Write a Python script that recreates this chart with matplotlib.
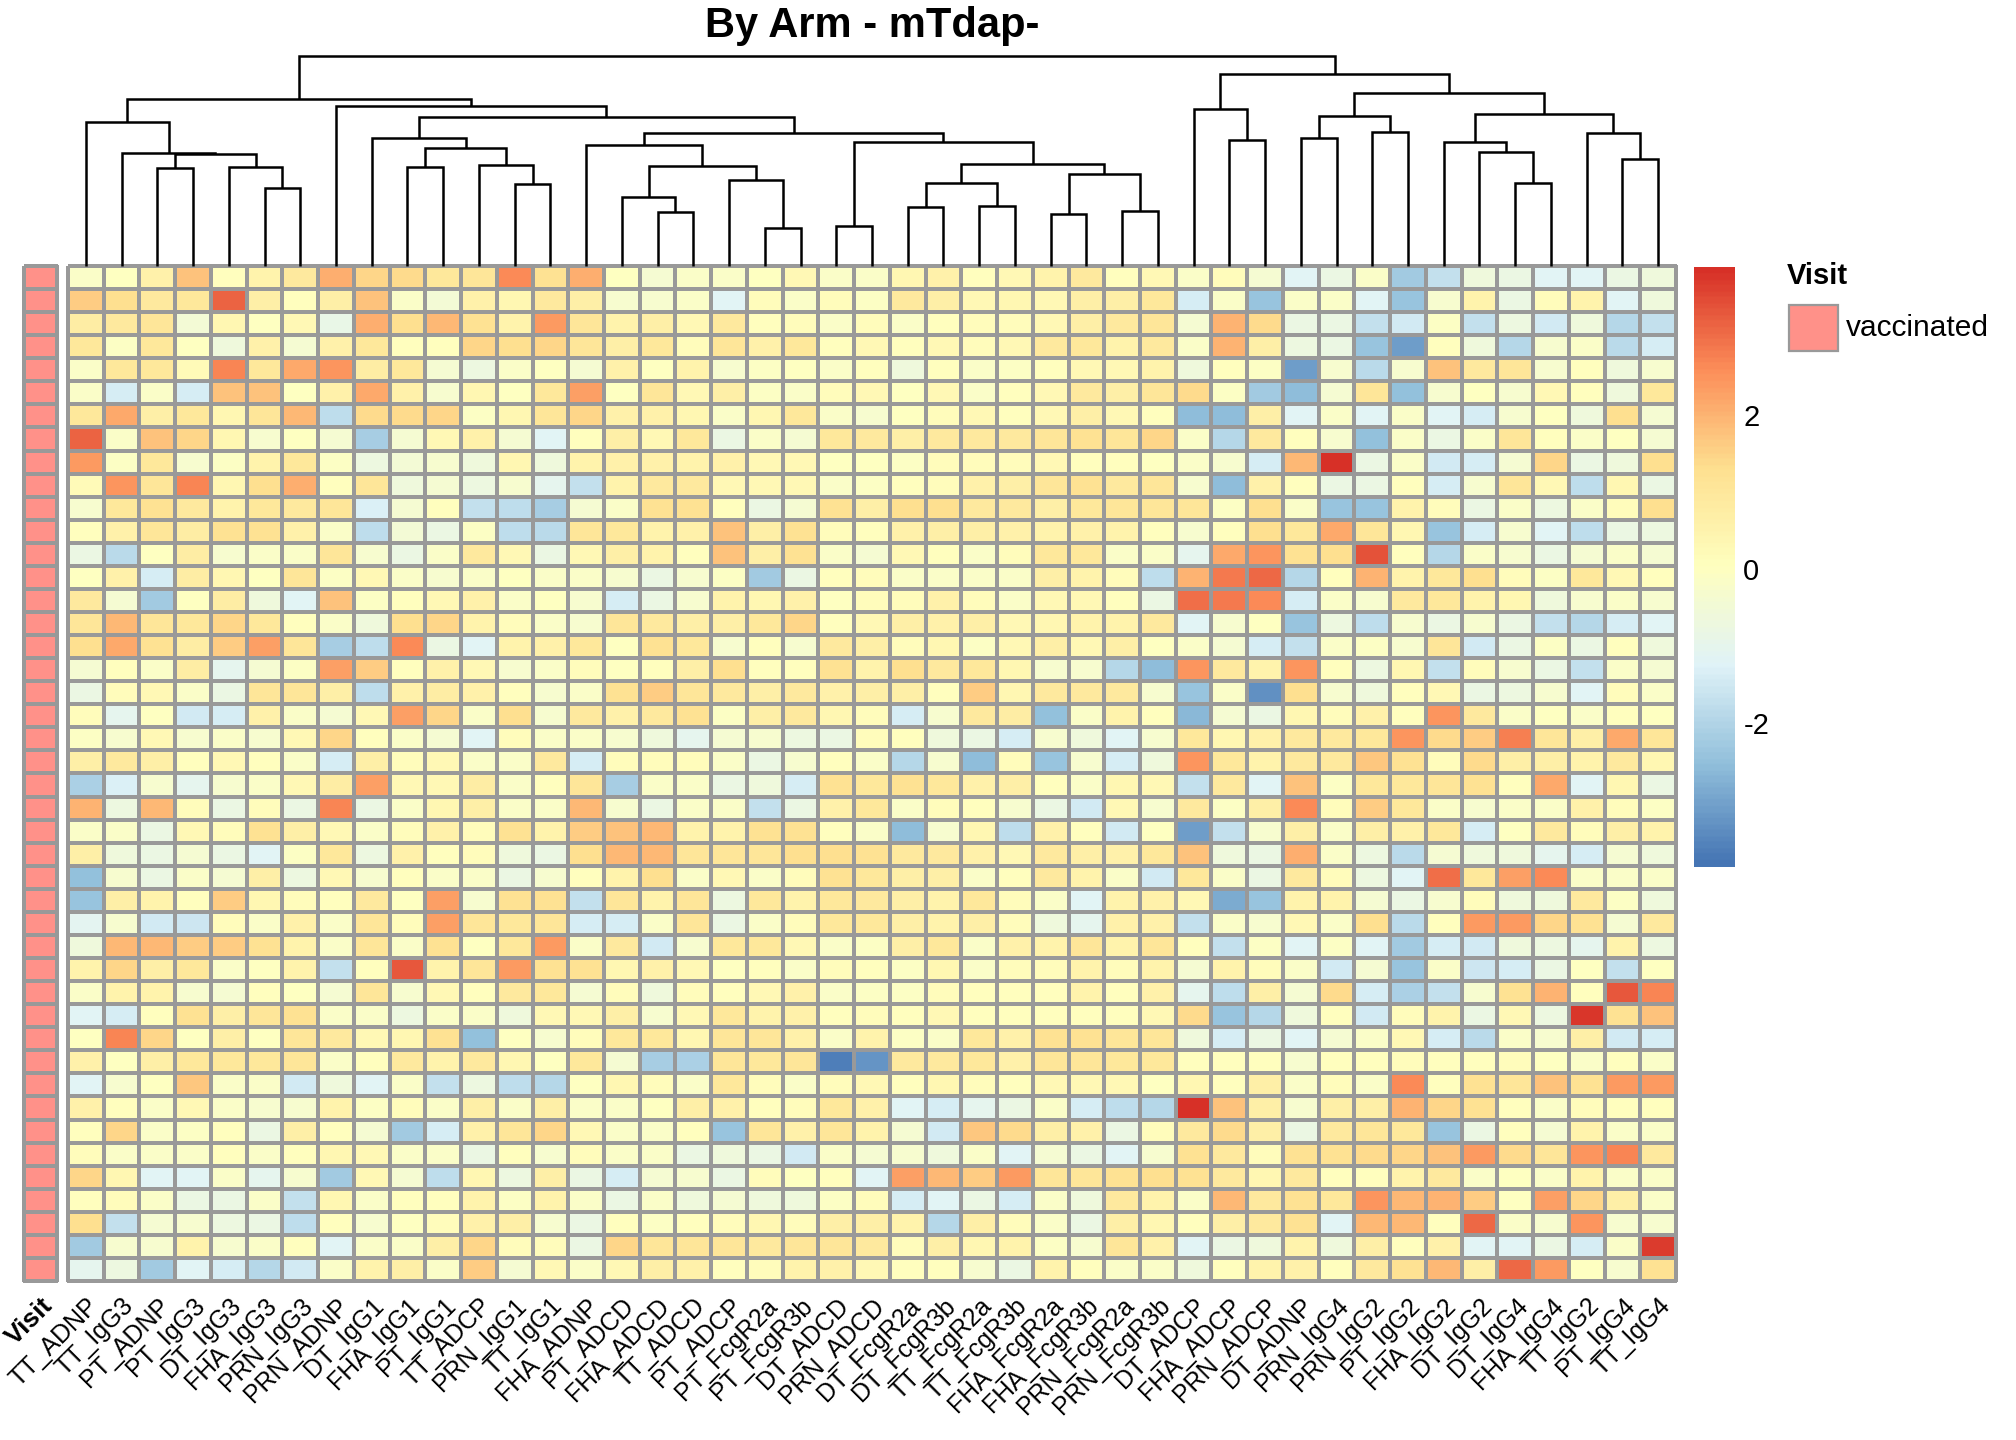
import numpy as np
import matplotlib
matplotlib.use("Agg")
import matplotlib.pyplot as plt
from matplotlib.colors import LinearSegmentedColormap
from matplotlib.patches import Rectangle

plt.rcParams['font.family'] = ['Liberation Sans', 'DejaVu Sans']

title = "By Arm - mTdap-"

col_labels = ["TT_ADNP", "TT_IgG3", "PT_ADNP", "PT_IgG3", "DT_IgG3", "FHA_IgG3", "PRN_IgG3",
              "PRN_ADNP", "DT_IgG1", "FHA_IgG1", "PT_IgG1", "TT_ADCP", "PRN_IgG1", "TT_IgG1",
              "FHA_ADNP", "PT_ADCD", "FHA_ADCD", "TT_ADCD", "PT_ADCP", "PT_FcgR2a", "PT_FcgR3b",
              "DT_ADCD", "PRN_ADCD", "DT_FcgR2a", "DT_FcgR3b", "TT_FcgR2a", "TT_FcgR3b",
              "FHA_FcgR2a", "FHA_FcgR3b", "PRN_FcgR2a", "PRN_FcgR3b", "DT_ADCP", "FHA_ADCP",
              "PRN_ADCP", "DT_ADNP", "PRN_IgG4", "PRN_IgG2", "PT_IgG2", "FHA_IgG2", "DT_IgG2",
              "DT_IgG4", "FHA_IgG4", "TT_IgG2", "PT_IgG4", "TT_IgG4"]

annotation_name = "Visit"
annotation_level = "vaccinated"
annotation_color = "#FF9189"

# scaled values, one list per sample row (top to bottom), columns in label order
heat_rows = [
 [-0.2,0,0.6,1.8,0.1,0.5,0.9,2.1,1.5,1.4,1.0,1.1, 2.6,1.2,2.1,0.0,-0.4,-0.2,-0.2,0.0,0.3,-0.2,-0.2, 0.4,0.6,0.1,0.3,0.5,0.9,0.05,0.3,-0.2,0.15,-0.4, -1.2,-0.8,-0.2,-2.3,-1.7,-0.6,-0.8,-1.2,-1.2,-0.8,-0.6],
 [1.6,1.3,0.9,1.0,3.2,0.7,0.1,0.7,1.8,-0.2,-0.5,0.6, 0.4,0.9,0.7,-0.3,-0.3,-0.2,-1.2,0.15,-0.2,0.15,-0.1, 0.9,0.7,0.3,0.4,0.3,0.7,0.7,1.0,-1.4,-0.15,-2.4, -0.2,-0.15,-1.2,-2.4,-0.3,0.5,-0.8,0.15,0.5,-1.2,-0.6],
 [0.8,0.9,1.1,-0.5,0.4,0.0,0.3,-0.9,2.1,1.3,1.9,1.2, 0.5,2.4,1.1,0.5,0.7,0.3,0.9,0.1,0.15,-0.2,0.15, -0.2,0.1,0.15,0.15,0.3,0.7,0.9,1.1,-0.4,2.0,1.4, -0.8,-0.8,-1.7,-1.5,-0.1,-1.7,-0.7,-1.5,-0.6,-2.0,-1.7],
 [1.0,-0.1,1.0,0.0,-0.6,0.6,-0.4,0.6,1.0,0.1,0.1,1.5, 1.3,1.5,1.1,0.7,1.0,0.15,1.1,0.6,1.0,0.1,0.3, 0.1,0.3,0.15,0.3,0.9,1.0,0.5,0.9,-0.15,2.0,0.7, -0.7,-0.8,-2.4,-3.1,0.05,-0.6,-2.0,-0.3,-0.15,-1.9,-1.4],
 [-0.2,1.0,1.0,0.2,2.7,1.0,2.2,2.5,0.8,1.0,-0.4,-0.7, -0.2,-0.05,-0.4,0.6,0.0,0.5,-0.3,-0.1,0.0,-0.2,0.05, -0.6,0.05,-0.2,-0.1,0.05,0.3,0.3,0.5,-0.6,0.05,-0.1, -3.1,-0.3,-1.9,-0.3,1.8,0.9,1.1,-0.3,0.05,-0.6,-0.3],
 [-0.2,-1.4,-0.2,-1.4,1.8,1.8,0.0,0.6,2.2,0.6,-0.3,0.4, -0.05,1.0,2.3,-0.05,1.1,0.3,0.7,-0.1,-0.15,0.15,0.3, -0.05,0.3,-0.15,0.1,0.3,0.9,0.7,1.1,1.4,-0.1,-2.3, -2.6,-0.4,1.1,-2.5,-0.3,-0.05,-0.3,0.3,0.05,-0.6,1.0],
 [1.0,2.2,0.7,1.0,0.4,1.1,1.9,-1.8,1.4,1.4,1.5,-0.1, 0.4,1.1,1.5,0.6,0.6,0.4,-0.2,0.4,1.0,-0.2,-0.3, -0.05,0.15,0.3,0.05,0.3,0.7,0.3,0.1,-2.6,-2.6,0.7, -1.2,-0.15,-1.2,-0.15,-1.2,-1.4,-0.3,-0.05,-0.6,1.3,-0.4],
 [3.2,-0.2,1.8,1.5,0.4,-0.3,0.0,-0.4,-2.2,-0.4,0.3,0.6, -0.4,-1.2,0.1,0.7,0.3,1.0,-0.8,-0.2,-0.4,1.0,0.9, 0.7,0.9,0.9,0.9,1.1,1.2,1.1,1.5,-0.2,-2.0,0.9, 0.05,-0.3,-2.5,-0.2,-0.8,-0.15,1.1,0.1,-0.2,-0.05,-0.4],
 [2.4,-0.1,1.0,-0.3,-0.1,0.5,1.0,-0.1,-0.7,-0.5,-0.3,-0.6, 0.4,-0.6,0.5,0.6,0.6,0.5,0.6,0.3,0.3,0.0,-0.05, -0.1,0.15,0.15,0.15,0.3,0.05,0.1,-0.05,-0.2,-0.3,-1.4, 1.9,3.9,-0.8,-0.15,-1.5,-1.4,-0.4,1.5,-0.8,-0.6,1.3],
 [0.2,2.5,1.1,2.7,0.4,1.3,2.1,0.05,1.1,-0.6,-0.4,-0.7, -0.3,-1.0,-1.7,0.5,0.9,0.9,0.3,0.3,0.3,-0.2,-0.1, 0.1,0.15,0.6,0.7,1.1,1.2,0.9,1.1,-0.3,-2.6,0.6, 0.1,-0.8,-0.8,0.05,-1.4,-0.3,1.1,0.3,-1.8,0.4,-0.8],
 [-0.3,1.0,1.2,0.9,0.5,1.0,0.9,1.1,-1.3,-0.4,0.1,-1.7, -1.8,-2.2,-0.4,-0.15,1.2,1.2,0.1,-0.8,-0.4,1.2,0.7, 1.3,1.3,0.9,0.9,0.7,1.0,1.1,1.1,1.1,-0.1,1.3, -0.2,-2.4,-2.4,0.5,0.15,-0.8,-0.2,-0.7,-0.2,0.15,1.3],
 [0.1,0.6,1.1,0.8,1.2,1.2,0.6,-0.2,-1.8,-0.5,-0.8,-0.1, -1.8,-1.9,1.1,1.0,0.5,0.6,1.8,0.7,1.2,0.15,0.1, 0.6,0.7,0.7,0.6,0.5,0.6,0.5,0.1,-0.3,0.05,1.3, 1.0,2.2,1.1,0.4,-2.4,-1.4,-0.3,-1.2,-1.8,-0.8,-0.7],
 [-0.8,-1.9,0.0,0.8,-0.3,-0.2,-0.2,1.1,-0.3,-0.8,-0.2,0.9, 0.3,-0.8,0.3,0.7,0.5,0.1,1.8,0.7,1.2,-0.2,-0.4, 0.3,0.1,-0.15,0.15,1.0,1.0,-0.15,-0.2,-1.0,2.2,2.5, 1.2,1.3,3.4,0.1,-2.0,-0.15,-0.3,-0.8,-0.4,-0.2,-0.4],
 [0.0,0.6,-1.4,0.8,0.4,-0.05,1.1,-0.1,0.3,-0.2,-0.3,-0.2, 0.0,-0.2,-0.2,-0.3,-0.8,-0.3,-0.1,-2.3,-0.8,0.1,0.15, -0.2,-0.2,-0.15,-0.15,0.7,0.5,0.15,-1.8,2.0,2.9,3.1, -2.0,0.05,2.0,0.5,1.0,1.3,0.15,-0.1,1.0,0.3,0.1],
 [0.9,-0.4,-2.3,0.0,0.8,-0.6,-1.2,1.8,-0.1,0.1,0.3,0.6, -0.15,0.0,-0.3,-1.4,-0.8,-0.3,0.5,0.4,0.6,-0.05,0.15, 0.15,0.6,0.15,-0.15,0.3,0.3,0.1,-0.8,3.0,2.9,2.6, -1.4,-0.15,-0.3,0.9,1.0,0.5,0.4,-0.6,-0.3,-0.2,-0.3],
 [1.1,1.9,1.1,1.0,1.5,1.0,0.1,-0.2,-0.6,1.3,1.5,0.5, 0.15,-0.2,-0.3,1.1,0.9,0.7,0.7,1.0,1.5,0.1,0.3, 0.7,0.6,0.7,0.3,0.4,0.5,0.5,0.9,-1.2,-0.3,-0.05, -2.4,-0.7,-1.8,-0.3,-0.8,-0.3,-0.8,-1.7,-2.0,-1.4,-1.2],
 [1.3,2.2,1.2,0.8,1.6,2.3,1.1,-2.2,-1.8,2.6,-0.8,-1.2, 0.5,0.6,1.0,-0.05,1.2,1.0,-0.3,0.1,-0.3,0.9,0.7, 0.15,0.4,-0.1,0.3,0.7,0.3,0.7,-0.05,-0.15,-0.4,-1.4, -1.7,-0.15,-0.1,-0.3,1.1,-1.5,-0.8,-0.1,-0.8,0.05,-0.6],
 [-0.4,0.1,-0.2,0.8,-1.0,-0.4,-0.1,2.3,1.6,0.1,0.6,0.3, -0.3,-0.2,0.15,0.0,0.1,0.7,1.3,0.1,0.05,1.2,0.5, 1.3,0.9,1.0,0.4,-0.3,-0.3,-2.0,-2.6,2.5,0.9,0.5, 2.5,0.05,-0.7,0.4,-1.7,0.15,-0.3,-0.8,-1.7,-0.2,-0.4],
 [-0.8,0.15,0.3,-0.2,-0.8,1.1,1.1,0.7,-1.8,0.6,0.8,0.6, 0.05,-0.3,-0.2,1.2,1.6,1.1,0.9,0.7,0.9,0.6,0.7, 0.7,0.1,1.6,0.4,0.9,0.9,0.9,-0.3,-2.4,-0.15,-3.4, 1.3,-0.3,-0.6,0.05,0.3,-0.8,-0.7,-0.3,-1.2,0.15,-0.2],
 [0.15,-1.0,0.0,-1.5,-1.4,0.6,-0.2,-0.4,0.3,2.3,1.5,-0.2, 1.3,-0.3,0.9,0.6,0.9,1.2,-0.1,0.7,0.9,0.4,0.15, -1.4,-0.3,0.9,0.8,-2.5,-0.2,0.5,0.05,-2.7,-0.4,-0.8, 0.4,0.15,0.6,0.05,2.5,0.9,-0.2,-0.05,-0.15,0.05,-0.05],
 [-0.1,-0.3,0.3,-0.3,-0.2,-0.3,0.3,1.5,0.1,-0.2,-0.4,-1.2, 0.15,-0.2,-0.15,-0.3,-0.6,-1.0,-0.4,-0.3,-0.7,-0.8,0.15, 0.05,-0.6,-0.8,-1.4,-0.3,-0.6,-1.2,-0.3,1.0,0.4,0.6, 0.9,0.9,1.0,2.5,1.4,1.6,2.8,1.1,0.7,2.2,1.1],
 [0.7,0.9,0.7,0.1,0.3,0.1,-0.2,-1.4,0.7,0.15,0.3,-0.2, -0.15,0.9,-1.4,0.15,0.15,0.15,-0.2,-0.8,-0.3,0.1,-0.2, -2.0,-0.3,-2.6,0.15,-2.4,-0.3,-1.4,-0.6,2.5,1.0,0.5, 0.9,0.9,1.7,1.2,0.15,1.4,0.7,0.7,0.5,0.9,0.4],
 [-2.1,-1.3,-0.3,-1.0,-0.3,-0.15,0.3,0.8,2.3,0.3,0.3,0.8, -0.2,0.1,1.1,-2.2,-0.15,-0.2,-0.8,-0.6,-1.4,1.2,1.0, 1.2,1.0,0.6,0.7,0.1,-0.15,0.4,0.3,-1.7,0.9,-1.2, 1.8,-0.1,1.0,1.0,1.1,1.2,0.1,2.2,-1.2,0.4,-0.8],
 [2.0,-0.7,1.9,0.15,-0.8,0.15,-0.8,2.7,-0.8,-0.15,0.4,0.7, -0.15,-0.15,1.9,-0.3,-0.8,-0.2,-0.15,-1.7,-0.8,0.6,1.0, -0.2,0.15,0.1,-0.3,-0.8,-1.5,0.3,-0.3,0.9,-0.1,0.7, 2.6,0.15,1.6,1.0,-0.15,-0.3,-0.2,-0.2,0.6,0.15,-0.1],
 [-0.15,-0.15,-0.8,0.3,0.15,1.2,0.7,0.3,-0.15,0.15,0.6,0.15, 1.2,0.5,1.6,1.8,1.9,0.5,0.5,1.2,1.2,0.1,-0.15, -2.6,-0.3,0.4,-1.8,0.6,0.1,-1.5,-0.05,-3.1,-1.7,-0.3, 0.7,-0.15,0.7,0.6,1.0,-1.4,-0.05,0.9,0.15,0.7,0.5],
 [0.7,-0.6,-0.8,-0.4,-0.8,-1.2,-0.1,1.0,-0.7,0.6,0.1,0.15, -0.6,-0.8,1.3,1.9,1.9,1.1,1.1,1.1,1.3,1.3,1.2, 0.9,0.9,0.6,0.3,0.9,0.7,0.6,1.0,1.8,-0.6,-0.8, 2.1,-0.2,-0.7,-1.9,-0.4,-0.6,-0.6,-1.0,-1.4,-0.4,-0.6],
 [-2.5,-0.3,-0.8,-0.2,-0.4,0.7,-0.7,0.3,-0.3,0.1,-0.2,-0.2, -0.8,-0.3,0.05,0.5,1.3,-0.15,0.3,-0.2,0.15,1.2,1.0, 0.7,0.7,-0.15,0.1,0.9,0.5,-0.2,-1.5,1.0,-0.2,-0.8, 0.9,0.15,-0.7,-1.2,3.0,1.0,2.3,2.6,-0.15,-0.2,-0.15],
 [-2.4,0.7,0.5,0.1,1.6,0.4,0.15,0.1,0.9,-0.05,2.3,-0.3, 1.2,1.2,-1.7,1.1,0.5,1.1,-0.7,1.0,0.5,1.0,0.9, 0.7,0.5,1.0,0.15,-0.2,-1.2,0.5,0.6,0.3,-2.9,-2.4, 0.5,0.5,-0.4,-0.8,-0.3,0.15,-0.6,-0.6,0.9,-0.1,-0.6],
 [-1.1,-0.3,-1.5,-1.6,0.15,-0.15,0.6,-0.2,1.1,0.15,2.3,1.1, 1.0,1.1,-1.4,-1.4,-0.2,1.1,-0.8,-0.15,0.15,1.0,1.0, 0.7,0.5,0.7,0.15,-0.6,-1.0,0.6,0.6,-1.7,-0.15,-0.3, 0.3,-0.2,1.3,-1.9,0.1,2.4,2.4,1.5,1.2,-0.4,0.9],
 [-0.6,1.9,1.9,1.6,1.6,1.2,0.5,-0.15,1.1,-0.15,1.2,-0.05, 1.0,2.4,-0.2,0.9,-1.5,-0.3,1.0,1.0,0.3,-0.2,-0.1, 0.7,1.0,-0.15,0.6,0.5,1.1,0.5,1.1,0.1,-1.7,-0.1, -1.2,-0.1,-1.2,-2.3,-1.4,-1.5,-0.6,-0.7,-1.0,0.5,-0.7],
 [0.5,1.5,0.7,1.0,-0.2,-0.05,0.5,-1.7,0.1,3.3,0.5,1.1, 2.4,1.2,1.2,0.4,0.6,0.3,-0.05,0.1,-0.2,0.15,0.05, -0.1,0.4,-0.15,0.15,0.15,0.5,0.15,0.5,-0.4,0.5,0.15, -0.15,-1.5,-0.4,-2.4,-0.15,-1.6,-1.4,-0.8,-0.05,-1.7,-0.05],
 [-0.15,0.5,0.5,-0.3,-0.4,0.05,-0.05,-0.4,1.1,-0.3,0.3,0.1, 0.9,1.0,-0.4,0.15,-0.6,0.15,0.1,0.3,0.6,-0.2,-0.1, -0.1,0.15,0.1,0.1,0.1,0.5,0.1,0.6,-1.0,-1.8,0.7, -0.4,1.4,-1.4,-2.1,-1.7,-0.3,1.2,2.0,0.1,3.3,2.7],
 [-1.2,-1.4,0.05,1.2,0.7,1.1,1.2,-0.2,-0.2,-0.7,-0.2,-0.2, -0.6,0.3,0.3,0.7,-0.3,0.3,1.0,0.5,0.6,0.1,0.15, 0.05,0.3,0.1,0.05,0.1,0.1,0.1,0.3,1.4,-2.4,-2.0, -0.6,0.05,-1.5,0.15,0.5,-0.8,0.3,-0.7,3.8,1.2,1.8],
 [-0.05,2.7,1.5,-0.05,0.7,-0.05,1.1,0.9,0.3,0.4,1.2,-2.5, -0.05,-0.3,0.15,1.0,1.0,0.4,1.1,1.1,0.6,-0.15,0.5, -0.1,-0.15,1.0,0.6,1.2,1.2,1.1,1.1,-0.6,-1.4,-0.8, -1.2,-0.4,-0.2,0.3,-1.4,-1.9,-0.2,-0.3,0.7,-1.5,-1.4],
 [0.6,-0.05,0.7,1.0,1.0,1.0,1.1,-0.2,0.1,0.9,0.5,0.9, 0.4,-0.05,1.0,-0.4,-2.2,-2.1,1.1,1.0,1.1,-3.7,-3.3, 0.9,0.9,1.0,0.6,1.1,1.1,1.0,1.0,0.1,0.1,0.05, -0.3,0.1,0.1,0.15,0.1,0.1,0.15,-0.05,-0.2,0.1,-0.15],
 [-1.2,-0.3,-0.05,1.7,-0.15,-0.2,-1.5,-0.6,-1.2,-0.2,-1.7,-0.7, -1.8,-2.0,-0.05,0.4,0.15,-0.15,1.0,0.15,-0.15,0.15,0.3, 0.1,0.4,0.15,0.05,0.3,0.3,0.3,-0.05,0.4,0.05,0.7, -0.15,0.15,-0.2,2.6,0.1,1.2,1.1,1.8,1.2,2.4,2.4],
 [0.6,0.1,-0.2,0.3,-0.15,-0.3,-0.3,0.5,-0.1,0.15,-0.15,0.7, -0.2,0.7,-0.2,-0.15,-0.05,0.7,0.6,0.05,0.15,1.0,0.6, -1.2,-1.4,-1.0,-0.8,-0.15,-1.4,-1.8,-2.0,3.9,1.8,0.7, -0.3,0.7,0.7,2.0,1.5,1.2,0.1,-0.15,0.15,0.05,0.1],
 [0.1,1.5,-0.15,-0.1,0.1,-0.8,0.7,0.1,-0.4,-2.3,-1.4,0.6, 1.1,1.5,0.3,-0.15,-0.15,0.05,-2.4,1.1,0.6,1.1,0.5, -0.4,-1.5,1.7,1.4,0.7,0.6,-0.8,0.15,0.9,1.4,0.7, -0.8,0.9,1.1,1.0,-2.4,-0.8,0.1,-0.4,0.5,-0.15,-0.2],
 [0.15,-0.2,-0.15,-0.15,0.1,-0.2,0.05,0.4,0.3,-0.15,-0.15,-0.8, 0.1,-0.3,0.15,-0.2,-0.2,-0.8,-0.6,-0.8,-1.5,-0.2,-0.4, -0.3,-0.6,-0.2,-1.2,-0.4,-0.8,-1.2,-0.3,1.2,0.9,0.15, 1.2,1.2,1.4,1.5,1.8,2.4,1.4,1.1,2.5,2.7,0.9],
 [1.5,0.4,-1.2,-1.2,-0.2,-1.0,-0.3,-2.3,0.3,-0.4,-1.8,0.4, -0.7,0.7,-0.8,-1.4,-0.4,-0.3,-0.8,0.15,-0.05,0.05,-1.2, 2.3,1.9,1.6,2.4,1.1,1.1,1.2,1.3,1.2,0.9,0.4, 0.9,0.1,0.1,0.5,0.9,-0.2,-0.05,-0.2,0.5,-0.2,-0.2],
 [0.1,0.15,-0.2,-0.8,-0.8,-0.2,-1.7,0.4,-0.15,0.1,0.1,0.5, -0.1,0.5,-0.2,-0.8,-0.2,-0.6,-0.4,-0.6,-0.6,-0.1,0.15, -1.4,-1.2,-0.8,-1.4,-0.2,-0.6,0.9,0.5,-0.2,1.9,0.9, 1.2,1.0,2.5,1.9,2.0,1.6,-0.05,2.3,1.5,0.7,-0.15],
 [1.3,-1.7,-0.4,-0.3,-0.7,-0.8,-1.8,0.1,-0.3,-0.05,0.15,0.6, 0.7,-0.3,-0.8,0.05,-0.1,0.1,0.15,0.4,0.15,0.7,0.7, 0.5,-2.0,0.7,0.15,-0.2,-0.8,0.7,0.4,0.1,0.7,0.9, 1.2,-1.2,1.9,1.9,0.1,3.1,-0.2,-0.3,2.5,-0.3,-0.3],
 [-2.3,-0.3,-0.3,0.5,-0.3,-0.15,0.05,-1.2,-0.2,-0.15,0.7,1.5, 0.15,0.15,-0.8,1.5,1.1,1.1,1.1,0.9,1.1,1.1,0.9, 0.15,0.7,0.4,0.5,-0.1,-0.3,1.1,0.6,-1.2,-0.8,-0.6, 0.5,-0.6,0.7,0.1,0.6,-1.2,-1.2,-0.8,-1.4,-0.2,3.7],
 [-1.0,-0.7,-2.3,-1.2,-1.4,-2.0,-1.5,-0.15,0.5,0.7,-0.2,1.6, -0.4,0.3,-0.2,0.3,0.7,0.6,0.1,0.15,0.5,0.6,0.3, 0.1,0.1,-0.3,-0.8,0.5,0.1,-0.2,-0.15,-0.6,0.1,0.5, 0.6,0.1,0.9,1.2,1.9,0.7,3.1,2.4,-0.05,-0.3,1.2],
]

# column dendrogram: (node, left child, right child, merge height); ints are leaf columns
merges = [
 ("a1", 5, 6, 3.71), ("a2", 4, "a1", 4.70), ("a3", 2, 3, 4.67), ("a4", "a3", "a2", 5.33),
 ("a5", 1, "a4", 5.36), ("a6", 0, "a5", 6.86),
 ("b1", 9, 10, 4.71), ("b2", 12, 13, 3.89), ("b3", 11, "b2", 4.79), ("b4", "b1", "b3", 5.62),
 ("b5", 8, "b4", 6.10),
 ("c1", 16, 17, 2.56), ("c2", 15, "c1", 3.29), ("c3", 19, 20, 1.79), ("c4", 18, "c3", 4.08),
 ("c5", "c2", "c4", 4.75), ("c6", 14, "c5", 5.75),
 ("d1", 21, 22, 1.90), ("d2", 23, 24, 2.81), ("d3", 25, 26, 2.86), ("d4", "d2", "d3", 3.94),
 ("d5", 27, 28, 2.48), ("d6", 29, 30, 2.60), ("d7", "d5", "d6", 4.37), ("d8", "d4", "d7", 4.87),
 ("d9", "d1", "d8", 5.90), ("e1", "c6", "d9", 6.32), ("e2", "b5", "e1", 7.10),
 ("e3", 7, "e2", 7.63), ("L", "a6", "e3", 7.94),
 ("f1", 32, 33, 6.00), ("f2", 31, "f1", 7.46), ("f3", 34, 35, 6.08), ("f4", 36, 37, 6.37),
 ("f5", "f3", "f4", 7.13), ("f6", 40, 41, 3.94), ("f7", 39, "f6", 5.41), ("f8", 38, "f7", 5.89),
 ("f9", 43, 44, 5.10), ("g1", 42, "f9", 6.32), ("g2", "f8", "g1", 7.24), ("g3", "f5", "g2", 8.24),
 ("R", "f2", "g3", 9.14), ("root", "L", "R", 10.0),
]

palette = ["#4575B4", "#91BFDB", "#E0F3F8", "#FFFFBF", "#FEE090", "#FC8D59", "#D73027"]
vmin, vmax = -3.87, 3.92
cbar_ticks = [-2, 0, 2]

data = np.array(heat_rows)
nrow, ncol = data.shape
cmap = LinearSegmentedColormap.from_list("rdylbu_r", palette, N=100)
grid_col = "#999999"

W, H = 2016, 1440
fig = plt.figure(figsize=(W / 100, H / 100), dpi=100)

def fr(x0, y0, x1, y1):
    return [x0 / W, 1 - y1 / H, (x1 - x0) / W, (y1 - y0) / H]

hx0, hx1, hy0, hy1 = 68, 1676, 266, 1281

# heatmap
ax = fig.add_axes(fr(hx0, hy0, hx1, hy1))
mesh = ax.pcolormesh(np.arange(ncol + 1), np.arange(nrow + 1), data, cmap=cmap,
                     vmin=vmin, vmax=vmax, edgecolors=grid_col, linewidth=1.6)
mesh.set_clip_on(False)
ax.set_xlim(0, ncol)
ax.set_ylim(nrow, 0)
for s in ax.spines.values():
    s.set_visible(False)
ax.set_yticks([])
ax.set_xticks(np.arange(ncol) + 0.5)
ax.set_xticklabels(col_labels, rotation=45, ha="right", va="top",
                   rotation_mode="anchor", fontsize=18)
ax.tick_params(axis="x", length=0, pad=9)

# annotation column
axa = fig.add_axes(fr(24, hy0, 57, hy1))
ann = axa.pcolormesh(np.arange(2), np.arange(nrow + 1), np.zeros((nrow, 1)),
                     cmap=LinearSegmentedColormap.from_list("ann", [annotation_color, annotation_color]),
                     edgecolors=grid_col, linewidth=1.6)
ann.set_clip_on(False)
axa.set_xlim(0, 1)
axa.set_ylim(nrow, 0)
for s in axa.spines.values():
    s.set_visible(False)
axa.set_yticks([])
axa.set_xticks([0.5])
axa.set_xticklabels([annotation_name], rotation=45, ha="right", va="top",
                    rotation_mode="anchor", fontsize=19, fontweight="bold")
axa.tick_params(axis="x", length=0, pad=9)

# dendrogram
axd = fig.add_axes(fr(hx0, 56, hx1, hy0))
pos = {i: (i + 0.5, 0.0) for i in range(ncol)}
for name, left, right, h in merges:
    xl, yl = pos[left]
    xr, yr = pos[right]
    axd.plot([xl, xl, xr, xr], [yl, h, h, yr], color="black", lw=1.8,
             solid_capstyle="butt", solid_joinstyle="miter", clip_on=False)
    pos[name] = ((xl + xr) / 2, h)
axd.set_xlim(0, ncol)
axd.set_ylim(0, merges[-1][3])
axd.axis("off")

# title
fig.text((hx0 + hx1) / 2 / W, 1 - 26 / H, title, ha="center", va="center",
         fontsize=30, fontweight="bold")

# colour legend
axc = fig.add_axes(fr(1701, 267, 1742, 867))
grad = np.linspace(vmin, vmax, 256).reshape(-1, 1)
axc.imshow(grad, cmap=cmap, vmin=vmin, vmax=vmax, aspect="auto", origin="lower",
           extent=[0, 1, vmin, vmax])
axc.set_xticks([])
axc.yaxis.tick_right()
axc.set_yticks(cbar_ticks)
axc.set_yticklabels([str(t) for t in cbar_ticks], fontsize=21)
axc.tick_params(axis="y", length=0, pad=6)
for s in axc.spines.values():
    s.set_visible(False)
axc.set_position(fr(1694, 267, 1735, 867))

# annotation legend
fig.text(1787 / W, 1 - 262 / H, annotation_name, ha="left", va="top",
         fontsize=21, fontweight="bold")
fig.patches.append(Rectangle((1789 / W, 1 - 351 / H), 49 / W, 46 / H,
                             transform=fig.transFigure, facecolor=annotation_color,
                             edgecolor=grid_col, linewidth=1.6))
fig.text(1846 / W, 1 - 328 / H, annotation_level, ha="left", va="center", fontsize=21.5)

fig.savefig("out.png", dpi=100)
